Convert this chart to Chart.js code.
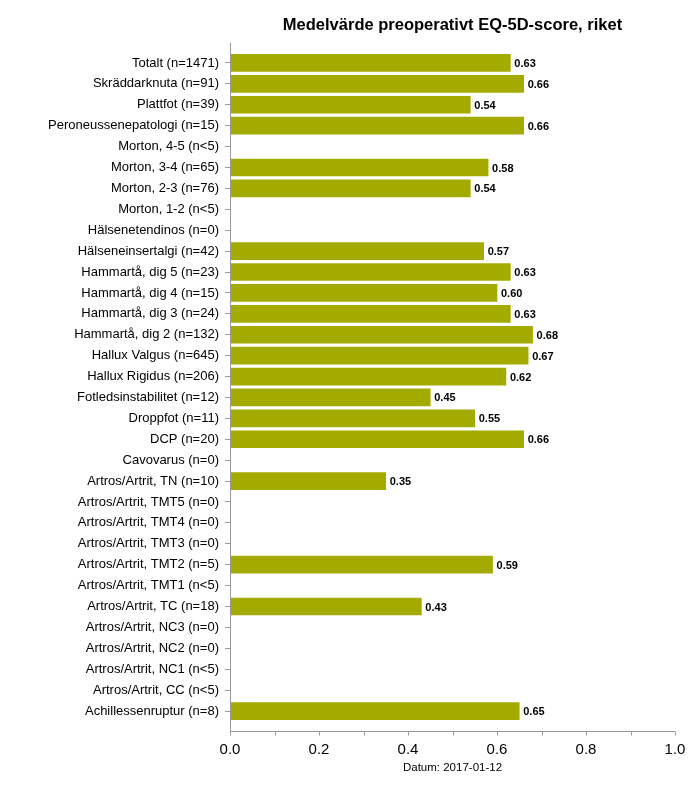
<!DOCTYPE html>
<html>
<head>
<meta charset="utf-8">
<script src="https://cdn.jsdelivr.net/npm/chart.js@4"></script>
<style>
  html, body { margin: 0; padding: 0; background: #fff; }
  #wrap { width: 700px; height: 793px; position: relative; }
</style>
</head>
<body>
<div id="wrap"><canvas id="chart"></canvas></div>
<script>
const TITLE = 'Medelvärde preoperativt EQ-5D-score, riket';
const FOOTNOTE = 'Datum: 2017-01-12';
const BAR_COLOR = '#a4ab00';

const categories = [
  'Totalt (n=1471)', 'Skräddarknuta (n=91)', 'Plattfot (n=39)', 'Peroneussenepatologi (n=15)',
  'Morton, 4-5 (n<5)', 'Morton, 3-4 (n=65)', 'Morton, 2-3 (n=76)', 'Morton, 1-2 (n<5)',
  'Hälsenetendinos (n=0)', 'Hälseneinsertalgi (n=42)', 'Hammartå, dig 5 (n=23)', 'Hammartå, dig 4 (n=15)',
  'Hammartå, dig 3 (n=24)', 'Hammartå, dig 2 (n=132)', 'Hallux Valgus (n=645)', 'Hallux Rigidus (n=206)',
  'Fotledsinstabilitet (n=12)', 'Droppfot (n=11)', 'DCP (n=20)', 'Cavovarus (n=0)',
  'Artros/Artrit, TN (n=10)', 'Artros/Artrit, TMT5 (n=0)', 'Artros/Artrit, TMT4 (n=0)', 'Artros/Artrit, TMT3 (n=0)',
  'Artros/Artrit, TMT2 (n=5)', 'Artros/Artrit, TMT1 (n<5)', 'Artros/Artrit, TC (n=18)', 'Artros/Artrit, NC3 (n=0)',
  'Artros/Artrit, NC2 (n=0)', 'Artros/Artrit, NC1 (n<5)', 'Artros/Artrit, CC (n<5)', 'Achillessenruptur (n=8)'
];

const meanScore = [
  0.63, 0.66, 0.54, 0.66,
  null, 0.58, 0.54, null,
  null, 0.57, 0.63, 0.60,
  0.63, 0.68, 0.67, 0.62,
  0.45, 0.55, 0.66, null,
  0.35, null, null, null,
  0.59, null, 0.43, null,
  null, null, null, 0.65
];

const xTicks = [0, 0.2, 0.4, 0.6, 0.8, 1.0];

const AXIS_COLOR = '#999';
const AXIS_EXTRA = 9.5; // axis lines stick out past the category band

// axis lines, x tick marks, value labels, title and date
const decorations = {
  id: 'decorations',
  afterDatasetsDraw(chart) {
    const { ctx, chartArea: a, scales: { x } } = chart;
    ctx.save();
    ctx.strokeStyle = AXIS_COLOR;
    ctx.lineWidth = 1;
    ctx.beginPath();
    ctx.moveTo(Math.round(a.left) + 0.5, a.top - AXIS_EXTRA);
    ctx.lineTo(Math.round(a.left) + 0.5, a.bottom + AXIS_EXTRA);
    const yAx = Math.round(a.bottom + AXIS_EXTRA) + 0.5;
    ctx.moveTo(a.left, yAx);
    ctx.lineTo(a.right, yAx);
    for (let i = 0; i <= 10; i++) {
      const px = Math.round(x.getPixelForValue(i / 10)) + 0.5;
      ctx.moveTo(px, yAx);
      ctx.lineTo(px, yAx + 4);
    }
    ctx.stroke();

    // value labels
    const meta = chart.getDatasetMeta(0);
    ctx.fillStyle = '#000';
    ctx.font = 'bold 11px "Liberation Sans", Arial, sans-serif';
    ctx.textBaseline = 'middle';
    ctx.textAlign = 'left';
    meta.data.forEach((bar, i) => {
      const v = meanScore[i];
      if (v == null) return;
      ctx.fillText(v.toFixed(2), bar.x + 4, bar.y + 1);
    });

    const cx = (a.left + a.right) / 2;
    ctx.textAlign = 'center';
    ctx.font = 'bold 16.5px "Liberation Sans", Arial, sans-serif';
    ctx.fillText(TITLE, cx, 25);
    ctx.font = '11.5px "Liberation Sans", Arial, sans-serif';
    ctx.fillText(FOOTNOTE, cx, 768);
    ctx.restore();
  }
};

new Chart(document.getElementById('chart'), {
  type: 'bar',
  data: {
    labels: categories,
    datasets: [{
      data: meanScore,
      backgroundColor: BAR_COLOR,
      borderWidth: 0,
      barThickness: 17,
    }],
  },
  options: {
    indexAxis: 'y',
    responsive: true,
    maintainAspectRatio: false,
    animation: false,
    layout: { padding: { top: 52.5, right: 25, bottom: 0, left: 0 } },
    plugins: {
      legend: { display: false },
      tooltip: { enabled: false },
      title: { display: false },
    },
    scales: {
      x: {
        min: 0,
        max: 1,
        afterBuildTicks(scale) {
          scale.ticks = xTicks.map(v => ({ value: v }));
        },
        afterFit(scale) { scale.height = 71.5; },
        ticks: {
          color: '#000',
          padding: 11,
          font: { family: '"Liberation Sans", Arial, sans-serif', size: 15 },
          callback: v => Number(v).toFixed(1),
          maxRotation: 0,
        },
        grid: { display: false },
        border: { display: false },
      },
      y: {
        afterFit(scale) { scale.width = 230; },
        ticks: {
          color: '#000',
          padding: 6,
          autoSkip: false,
          font: { family: '"Liberation Sans", Arial, sans-serif', size: 13 },
        },
        grid: {
          offset: false,
          drawOnChartArea: false,
          drawTicks: true,
          tickLength: 5,
          color: AXIS_COLOR,
        },
        border: { display: false },
      },
    },
  },
  plugins: [decorations],
});
</script>
</body>
</html>
